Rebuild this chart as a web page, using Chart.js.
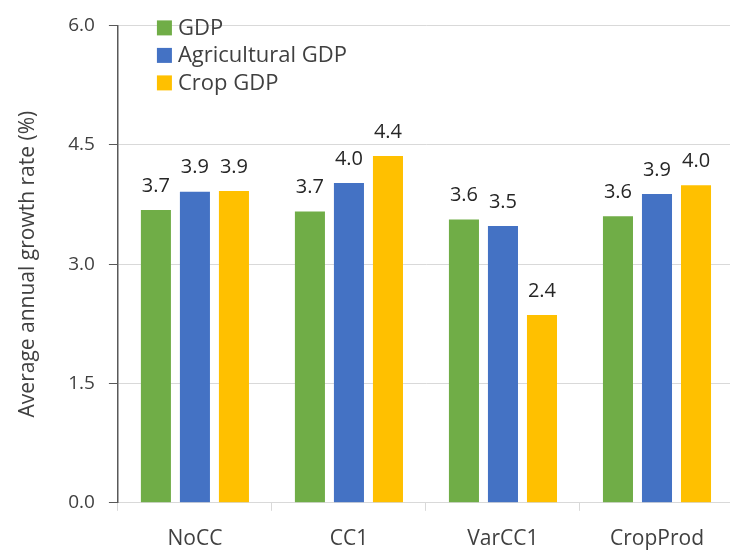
<!DOCTYPE html>
<html>
<head>
<meta charset="utf-8">
<script src="https://cdn.jsdelivr.net/npm/chart.js@4"></script>
<style>
  html, body { margin: 0; padding: 0; background: #fff; overflow: hidden; }
  #wrap { width: 740px; height: 568px; position: relative; }
</style>
</head>
<body>
<div id="wrap"><canvas id="growthChart"></canvas></div>
<script>
// scenarios on the x axis
const scenarios = ['NoCC', 'CC1', 'VarCC1', 'CropProd'];
// average annual growth rate (%)
const gdp = [3.68, 3.66, 3.56, 3.60];
const agGdp = [3.91, 4.02, 3.48, 3.88];
const cropGdp = [3.92, 4.36, 2.36, 3.99];
const seriesNames = ['GDP', 'Agricultural GDP', 'Crop GDP'];
const seriesColors = ['#70AD47', '#4472C4', '#FFC000'];
const yTicks = [0, 1.5, 3.0, 4.5, 6.0];

const FONT = '"Open Sans", Lato, sans-serif';

// value labels over bars + legend inside the plot (top left)
const labelsAndLegend = {
  id: 'labelsAndLegend',
  afterDatasetsDraw(chart) {
    const ctx = chart.ctx;
    ctx.save();
    ctx.font = '20px ' + FONT;
    ctx.fillStyle = '#262626';
    ctx.textAlign = 'center';
    ctx.textBaseline = 'middle';
    chart.data.datasets.forEach((ds, i) => {
      chart.getDatasetMeta(i).data.forEach((bar, j) => {
        ctx.fillText(ds.data[j].toFixed(1), bar.x, bar.y - 24);
      });
    });

    // legend
    const area = chart.chartArea;
    ctx.textAlign = 'left';
    ctx.font = '22px ' + FONT;
    chart.data.datasets.forEach((ds, i) => {
      const y = area.top + 2 + i * 27.5;
      ctx.fillStyle = ds.backgroundColor;
      ctx.fillRect(area.left + 39, y - 7, 15, 15);
      ctx.fillStyle = '#404040';
      ctx.fillText(ds.label, area.left + 60, y + 1);
    });
    ctx.restore();
  }
};

const ctx = document.getElementById('growthChart').getContext('2d');
const growthChart = new Chart(ctx, {
  type: 'bar',
  data: {
    labels: scenarios,
    datasets: [
      { label: seriesNames[0], data: gdp, backgroundColor: seriesColors[0] },
      { label: seriesNames[1], data: agGdp, backgroundColor: seriesColors[1] },
      { label: seriesNames[2], data: cropGdp, backgroundColor: seriesColors[2] }
    ]
  },
  options: {
    responsive: true,
    maintainAspectRatio: false,
    animation: false,
    datasets: {
      bar: { categoryPercentage: 0.76, barPercentage: 0.77 }
    },
    layout: { padding: { top: 17, right: 6, bottom: 0, left: 15 } },
    plugins: {
      legend: { display: false },
      tooltip: { enabled: false }
    },
    scales: {
      x: {
        grid: {
          offset: true,
          drawOnChartArea: false,
          color: '#d9d9d9',
          tickLength: 8
        },
        border: { color: '#d9d9d9', width: 1 },
        ticks: {
          color: '#404040',
          font: { family: FONT, size: 21 },
          padding: 16
        }
      },
      y: {
        min: 0,
        max: 6,
        afterBuildTicks: (scale) => {
          scale.ticks = yTicks.map(v => ({ value: v }));
        },
        grid: {
          color: '#d9d9d9',
          tickColor: '#595959',
          tickLength: 9
        },
        border: { color: '#595959', width: 1.5 },
        ticks: {
          color: '#404040',
          font: { family: FONT, size: 19 },
          padding: 14,
          callback: (v) => Number(v).toFixed(1)
        },
        title: {
          display: true,
          text: 'Average annual growth rate (%)',
          color: '#404040',
          font: { family: FONT, size: 21 },
          padding: { top: 0, bottom: 14 }
        }
      }
    }
  },
  plugins: [labelsAndLegend]
});
</script>
</body>
</html>
